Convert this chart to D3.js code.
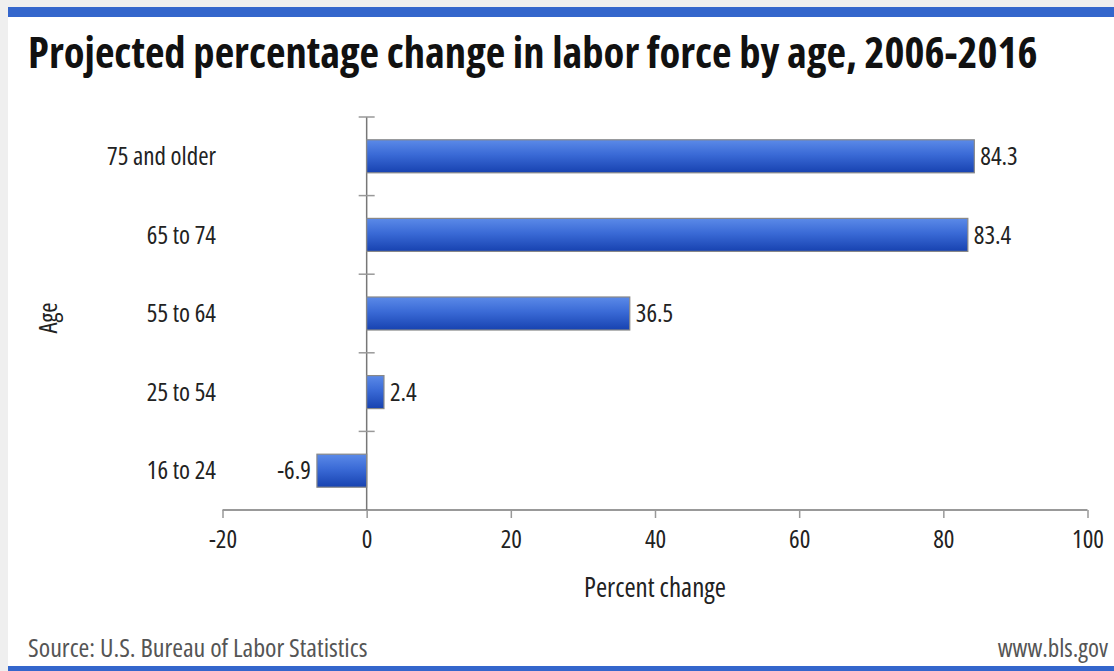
<!DOCTYPE html>
<html><head><meta charset="utf-8">
<script src="https://cdn.jsdelivr.net/npm/d3@7/dist/d3.min.js"></script>
<style>
html,body{margin:0;padding:0;background:#efefef;}
svg{display:block;}
text{font-family:"Open Sans",sans-serif;font-stretch:75%;}
</style></head>
<body>
<svg id="c" width="1114" height="671"></svg>
<script>
const categories = ["75 and older","65 to 74","55 to 64","25 to 54","16 to 24"];
const values = [84.3, 83.4, 36.5, 2.4, -6.9];
const xTicks = [-20, 0, 20, 40, 60, 80, 100];
const title = "Projected percentage change in labor force by age, 2006-2016";
const xTitle = "Percent change";
const yTitle = "Age";
const source = "Source: U.S. Bureau of Labor Statistics";
const site = "www.bls.gov";

const svg = d3.select("#c");
svg.append("rect").attr("x",8).attr("y",8).attr("width",1106).attr("height",663).attr("fill","#fff");
svg.append("rect").attr("x",8).attr("y",7).attr("width",1106).attr("height",10).attr("fill","#3466cc");
svg.append("rect").attr("x",8).attr("y",666).attr("width",1106).attr("height",5).attr("fill","#3466cc");

const defs = svg.append("defs");
const g = defs.append("linearGradient").attr("id","bg").attr("x1",0).attr("y1",0).attr("x2",0).attr("y2",1);
g.append("stop").attr("offset","0%").attr("stop-color","#5b8ae8");
g.append("stop").attr("offset","45%").attr("stop-color","#3a6ad6");
g.append("stop").attr("offset","100%").attr("stop-color","#1742b0");

const x = d3.scaleLinear().domain([-20,100]).range([222.5,1087.5]);
const y = d3.scaleBand().domain(categories).range([117,510]).paddingInner(0.58).paddingOuter(0.29);

const t = svg.append("text").attr("x",28).attr("y",68).attr("font-size",48).attr("font-weight","bold")
  .attr("fill","#111").text(title);
const tw = t.node().getComputedTextLength();
if (tw > 0) t.attr("font-size", Math.min(52, 48 * 1010 / tw));

const xa = svg.append("g").attr("transform","translate(0,510)")
  .call(d3.axisBottom(x).tickValues(xTicks).tickSize(8).tickPadding(12).tickFormat(d => String(d)));
xa.select(".domain").attr("stroke","#777").attr("stroke-width",1.5).attr("d","M"+x(-20)+",0H"+x(100));
xa.selectAll(".tick line").attr("stroke","#999").attr("stroke-width",1.5);
xa.selectAll(".tick text").attr("font-size",25).attr("fill","#222").attr("font-family",null);

const ya = svg.append("g");
ya.append("line").attr("x1",x(0)).attr("x2",x(0)).attr("y1",117).attr("y2",510).attr("stroke","#777").attr("stroke-width",1.5);
const bounds = d3.range(categories.length).map(i => y.range()[0] + i*(y.range()[1]-y.range()[0])/categories.length);
ya.selectAll("line.bt").data(bounds).join("line").attr("class","bt")
  .attr("x1",x(0)-8).attr("x2",x(0)+8).attr("y1",d=>d).attr("y2",d=>d).attr("stroke","#999").attr("stroke-width",1.5);

svg.selectAll("text.cat").data(categories).join("text").attr("class","cat")
  .attr("x",216).attr("y",d=>y(d)+y.bandwidth()/2).attr("dy","0.35em").attr("text-anchor","end")
  .attr("font-size",25).attr("fill","#222").text(d=>d);

svg.selectAll("rect.bar").data(values).join("rect").attr("class","bar")
  .attr("x",d=>x(Math.min(0,d))).attr("width",d=>Math.abs(x(d)-x(0)))
  .attr("y",(d,i)=>y(categories[i])).attr("height",y.bandwidth())
  .attr("fill","url(#bg)").attr("stroke","#888").attr("stroke-width",1.2);

svg.selectAll("text.val").data(values).join("text").attr("class","val")
  .attr("x",d=> d<0 ? x(d)-6 : x(d)+6).attr("text-anchor",d=>d<0?"end":"start")
  .attr("y",(d,i)=>y(categories[i])+y.bandwidth()/2).attr("dy","0.35em")
  .attr("font-size",25).attr("fill","#222").text(d=>d.toFixed(1));

svg.append("text").attr("x",(x(-20)+x(100))/2).attr("y",597).attr("text-anchor","middle")
  .attr("font-size",27).attr("fill","#222").text(xTitle);
svg.append("text").attr("transform","translate(57,318) rotate(-90)").attr("text-anchor","middle")
  .attr("font-size",25).attr("fill","#222").text(yTitle);

svg.append("text").attr("x",28).attr("y",657).attr("font-size",26).attr("fill","#555").text(source);
svg.append("text").attr("x",1108).attr("y",657).attr("text-anchor","end").attr("font-size",25).attr("fill","#555").text(site);
</script>
</body></html>
